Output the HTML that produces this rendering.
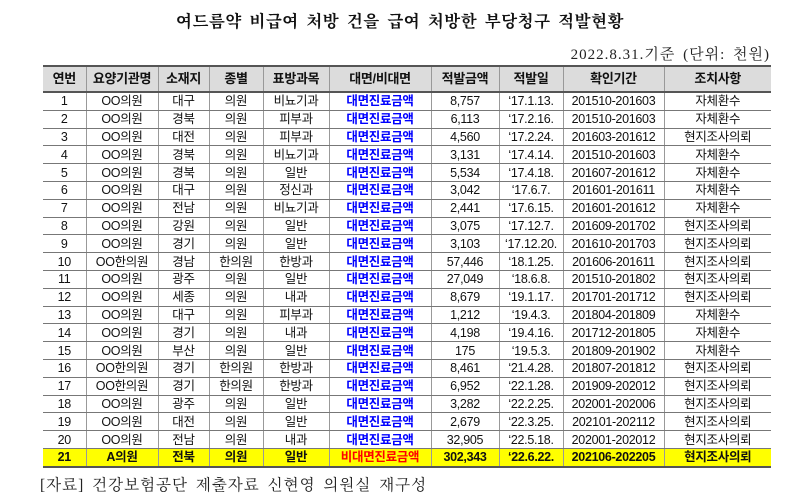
<!DOCTYPE html>
<html><head><meta charset="utf-8"><style>
body{margin:0;width:800px;height:498px;background:#fff;position:relative;overflow:hidden;font-family:"Liberation Sans","Noto Sans CJK KR",sans-serif;}
.title{position:absolute;left:0;width:800px;top:8px;text-align:center;font-family:"Liberation Serif","Noto Serif CJK SC",serif;font-size:16.5px;font-weight:bold;letter-spacing:0.5px;word-spacing:3px;color:#111;}
.date{position:absolute;right:30px;top:43px;font-family:"Liberation Serif","Noto Serif CJK SC",serif;font-size:15px;letter-spacing:1px;word-spacing:3px;color:#222;}
.foot{position:absolute;left:40px;top:473px;font-family:"Liberation Serif","Noto Serif CJK SC",serif;font-size:15.5px;letter-spacing:1px;word-spacing:3px;color:#222;}
table{position:absolute;left:43px;top:65px;border-collapse:collapse;table-layout:fixed;width:728px;font-size:12.5px;color:#111;}
td,th{border-left:1px solid #999;border-right:1px solid #999;border-bottom:1px solid #777;text-align:center;padding:0;height:16.8px;line-height:16px;white-space:nowrap;overflow:hidden;letter-spacing:-0.3px;}
th{background:#dcdcdc;height:24px;font-size:13px;border-top:2px solid #555;border-bottom:2px solid #555;}
td:first-child,th:first-child{border-left:none}
td:last-child,th:last-child{border-right:none}
.b{color:#0000ff;font-weight:bold}
tr.y td{background:#ffff00;font-weight:bold;border-bottom:2px solid #555}
tr.y td.r{color:#ff0000}
</style></head><body>
<div class="title">여드름약 비급여 처방 건을 급여 처방한 부당청구 적발현황</div>
<div class="date">2022.8.31.기준 (단위: 천원)</div>
<table>
<colgroup><col style="width:43px"><col style="width:72px"><col style="width:51px"><col style="width:54px"><col style="width:66px"><col style="width:102px"><col style="width:68px"><col style="width:64px"><col style="width:101px"><col style="width:107px"></colgroup>
<tr><th>연번</th><th>요양기관명</th><th>소재지</th><th>종별</th><th>표방과목</th><th>대면/비대면</th><th>적발금액</th><th>적발일</th><th>확인기간</th><th>조치사항</th></tr>
<tr><td>1</td><td>OO의원</td><td>대구</td><td>의원</td><td>비뇨기과</td><td class="b">대면진료금액</td><td>8,757</td><td>‘17.1.13.</td><td>201510-201603</td><td>자체환수</td></tr>
<tr><td>2</td><td>OO의원</td><td>경북</td><td>의원</td><td>피부과</td><td class="b">대면진료금액</td><td>6,113</td><td>‘17.2.16.</td><td>201510-201603</td><td>자체환수</td></tr>
<tr><td>3</td><td>OO의원</td><td>대전</td><td>의원</td><td>피부과</td><td class="b">대면진료금액</td><td>4,560</td><td>‘17.2.24.</td><td>201603-201612</td><td>현지조사의뢰</td></tr>
<tr><td>4</td><td>OO의원</td><td>경북</td><td>의원</td><td>비뇨기과</td><td class="b">대면진료금액</td><td>3,131</td><td>‘17.4.14.</td><td>201510-201603</td><td>자체환수</td></tr>
<tr><td>5</td><td>OO의원</td><td>경북</td><td>의원</td><td>일반</td><td class="b">대면진료금액</td><td>5,534</td><td>‘17.4.18.</td><td>201607-201612</td><td>자체환수</td></tr>
<tr><td>6</td><td>OO의원</td><td>대구</td><td>의원</td><td>정신과</td><td class="b">대면진료금액</td><td>3,042</td><td>‘17.6.7.</td><td>201601-201611</td><td>자체환수</td></tr>
<tr><td>7</td><td>OO의원</td><td>전남</td><td>의원</td><td>비뇨기과</td><td class="b">대면진료금액</td><td>2,441</td><td>‘17.6.15.</td><td>201601-201612</td><td>자체환수</td></tr>
<tr><td>8</td><td>OO의원</td><td>강원</td><td>의원</td><td>일반</td><td class="b">대면진료금액</td><td>3,075</td><td>‘17.12.7.</td><td>201609-201702</td><td>현지조사의뢰</td></tr>
<tr><td>9</td><td>OO의원</td><td>경기</td><td>의원</td><td>일반</td><td class="b">대면진료금액</td><td>3,103</td><td>‘17.12.20.</td><td>201610-201703</td><td>현지조사의뢰</td></tr>
<tr><td>10</td><td>OO한의원</td><td>경남</td><td>한의원</td><td>한방과</td><td class="b">대면진료금액</td><td>57,446</td><td>‘18.1.25.</td><td>201606-201611</td><td>현지조사의뢰</td></tr>
<tr><td>11</td><td>OO의원</td><td>광주</td><td>의원</td><td>일반</td><td class="b">대면진료금액</td><td>27,049</td><td>‘18.6.8.</td><td>201510-201802</td><td>현지조사의뢰</td></tr>
<tr><td>12</td><td>OO의원</td><td>세종</td><td>의원</td><td>내과</td><td class="b">대면진료금액</td><td>8,679</td><td>‘19.1.17.</td><td>201701-201712</td><td>현지조사의뢰</td></tr>
<tr><td>13</td><td>OO의원</td><td>대구</td><td>의원</td><td>피부과</td><td class="b">대면진료금액</td><td>1,212</td><td>‘19.4.3.</td><td>201804-201809</td><td>자체환수</td></tr>
<tr><td>14</td><td>OO의원</td><td>경기</td><td>의원</td><td>내과</td><td class="b">대면진료금액</td><td>4,198</td><td>‘19.4.16.</td><td>201712-201805</td><td>자체환수</td></tr>
<tr><td>15</td><td>OO의원</td><td>부산</td><td>의원</td><td>일반</td><td class="b">대면진료금액</td><td>175</td><td>‘19.5.3.</td><td>201809-201902</td><td>자체환수</td></tr>
<tr><td>16</td><td>OO한의원</td><td>경기</td><td>한의원</td><td>한방과</td><td class="b">대면진료금액</td><td>8,461</td><td>‘21.4.28.</td><td>201807-201812</td><td>현지조사의뢰</td></tr>
<tr><td>17</td><td>OO한의원</td><td>경기</td><td>한의원</td><td>한방과</td><td class="b">대면진료금액</td><td>6,952</td><td>‘22.1.28.</td><td>201909-202012</td><td>현지조사의뢰</td></tr>
<tr><td>18</td><td>OO의원</td><td>광주</td><td>의원</td><td>일반</td><td class="b">대면진료금액</td><td>3,282</td><td>‘22.2.25.</td><td>202001-202006</td><td>현지조사의뢰</td></tr>
<tr><td>19</td><td>OO의원</td><td>대전</td><td>의원</td><td>일반</td><td class="b">대면진료금액</td><td>2,679</td><td>‘22.3.25.</td><td>202101-202112</td><td>현지조사의뢰</td></tr>
<tr><td>20</td><td>OO의원</td><td>전남</td><td>의원</td><td>내과</td><td class="b">대면진료금액</td><td>32,905</td><td>‘22.5.18.</td><td>202001-202012</td><td>현지조사의뢰</td></tr>
<tr class="y"><td>21</td><td>A의원</td><td>전북</td><td>의원</td><td>일반</td><td class="r">비대면진료금액</td><td>302,343</td><td>‘22.6.22.</td><td>202106-202205</td><td>현지조사의뢰</td></tr>
</table>
<div class="foot">[자료] 건강보험공단 제출자료 신현영 의원실 재구성</div>
</body></html>
